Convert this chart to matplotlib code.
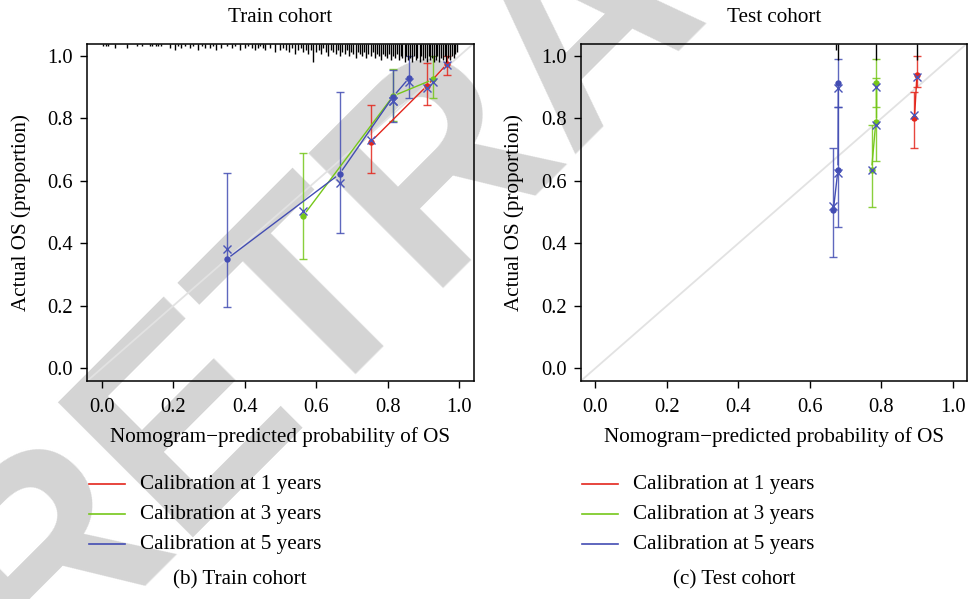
"""Calibration curves for the nomogram: train and test cohorts."""
import numpy as np
import matplotlib
matplotlib.use("Agg")
import matplotlib.pyplot as plt
from matplotlib.lines import Line2D
from matplotlib.transforms import blended_transform_factory

plt.rcParams["font.family"] = ["Liberation Serif", "DejaVu Serif"]

W, H = 968, 599
RED = "#e3261c"
GREEN = "#76c71a"
BLUE = "#434db3"
XCOL = "#4a55b8"
FS = 15.2
TICK_FS = 14.8

# ---- train cohort: groups for 1, 3 and 5 year calibration ----
tr1_pred = [0.753, 0.910, 0.966]
tr1_obs = [0.726, 0.905, 0.975]
tr1_lo = [0.624, 0.843, 0.939]
tr1_hi = [0.843, 0.979, 1.000]
tr1_corr = [0.731, 0.898, 0.972]

tr3_pred = [0.564, 0.815, 0.927]
tr3_obs = [0.489, 0.872, 0.925]
tr3_lo = [0.349, 0.792, 0.867]
tr3_hi = [0.688, 0.958, 1.000]
tr3_corr = [0.504, 0.856, 0.916]

tr5_pred = [0.350, 0.665, 0.815, 0.860]
tr5_obs = [0.350, 0.622, 0.870, 0.930]
tr5_lo = [0.195, 0.433, 0.790, 0.866]
tr5_hi = [0.625, 0.885, 0.955, 1.000]
tr5_corr = [0.382, 0.593, 0.855, 0.917]

# ---- test cohort ----
te1_pred = [0.893, 0.900]
te1_obs = [0.800, 0.940]
te1_lo = [0.707, 0.902]
te1_hi = [0.886, 1.000]
te1_corr = [0.811, 0.934]

te3_pred = [0.773, 0.785, 0.785]
te3_obs = [0.636, 0.790, 0.912]
te3_lo = [0.517, 0.665, 0.838]
te3_hi = [0.780, 0.930, 0.990]
te3_corr = [0.636, 0.778, 0.901]

te5_pred = [0.666, 0.679, 0.680]
te5_obs = [0.506, 0.636, 0.912]
te5_lo = [0.357, 0.454, 0.838]
te5_hi = [0.706, 0.838, 0.990]
te5_corr = [0.521, 0.624, 0.896]

# distribution of predicted probabilities (value, frequency) drawn as a rug
train_rug_p = [0.004, 0.011, 0.019, 0.037, 0.070, 0.098, 0.112, 0.134, 0.142, 0.151, 0.158, 0.166,
               0.191, 0.205, 0.213, 0.222, 0.233, 0.247, 0.256, 0.270, 0.280, 0.289,
               0.303, 0.312, 0.321, 0.335, 0.349, 0.363, 0.373, 0.387, 0.401, 0.410,
               0.419, 0.429, 0.437, 0.444, 0.451, 0.457, 0.471, 0.485, 0.499, 0.507,
               0.516, 0.523, 0.531, 0.540, 0.549, 0.556, 0.564, 0.571, 0.578, 0.585,
               0.592, 0.600, 0.607, 0.613, 0.620, 0.627, 0.634, 0.641, 0.648, 0.654,
               0.661, 0.667, 0.673, 0.679, 0.686, 0.692, 0.698, 0.704, 0.710, 0.716,
               0.722, 0.728, 0.734, 0.740, 0.746, 0.752, 0.758, 0.763, 0.769, 0.775,
               0.781, 0.786, 0.792, 0.797, 0.803, 0.808, 0.814, 0.819, 0.825, 0.830,
               0.836, 0.841, 0.847, 0.852, 0.857, 0.862, 0.868, 0.873, 0.878, 0.883,
               0.889, 0.894, 0.899, 0.904, 0.909, 0.914, 0.919, 0.924, 0.929, 0.934,
               0.939, 0.944, 0.949, 0.954, 0.959, 0.964, 0.969, 0.974, 0.979, 0.984, 0.989, 0.994]
train_rug_n = [1, 1, 1, 2, 2, 1, 1, 1, 1, 1, 1, 1,
               2, 3, 1, 2, 1, 2, 1, 3, 1, 2,
               2, 1, 3, 2, 1, 2, 1, 3, 2, 1,
               2, 3, 2, 1, 2, 3, 2, 4, 3, 2,
               3, 4, 2, 5, 3, 2, 4, 3, 5, 3,
               9, 4, 3, 5, 2, 4, 6, 3, 4, 5,
               3, 6, 4, 5, 3, 6, 4, 5, 7, 4,
               5, 6, 4, 7, 5, 6, 4, 7, 5, 6,
               8, 5, 6, 7, 5, 8, 6, 7, 5, 8,
               6, 7, 9, 6, 8, 7, 9, 6, 8, 7,
               9, 6, 8, 7, 9, 6, 8, 7, 9, 8,
               6, 9, 7, 8, 6, 9, 7, 8, 6, 7, 5, 4]
test_rug_p = [0.673, 0.680, 0.785, 0.899]
test_rug_n = [3, 8, 8, 8]

ticks = [0.0, 0.2, 0.4, 0.6, 0.8, 1.0]
tick_labels = ["0.0", "0.2", "0.4", "0.6", "0.8", "1.0"]
legend_labels = ["Calibration at 1 years", "Calibration at 3 years", "Calibration at 5 years"]


def fx(px):
    return px / W


def fy(py):
    return 1 - py / H


def gapped_line(ax, xs, ys, color, gap=5.0):
    # lines between points leave a small gap at each point
    pts = ax.transData.transform(np.column_stack([xs, ys]))
    inv = ax.transData.inverted()
    for p0, p1 in zip(pts[:-1], pts[1:]):
        d = np.hypot(*(p1 - p0))
        if d <= 2 * gap:
            continue
        u = (p1 - p0) / d
        seg = inv.transform(np.array([p0 + u * gap, p1 - u * gap]))
        ax.plot(seg[:, 0], seg[:, 1], color=color, lw=1.0, zorder=3)


def draw_group(ax, pred, obs, lo, hi, corr, color):
    obs = np.array(obs)
    yerr = [obs - np.array(lo), np.array(hi) - obs]
    ax.errorbar(pred, obs, yerr=yerr, fmt="none", ecolor=color, elinewidth=1.0,
                capsize=3.2, capthick=1.0, alpha=0.85, zorder=2)
    gapped_line(ax, pred, obs, color)
    ax.plot(pred, obs, "o", color=color, ms=4.6, mew=0, zorder=4)
    ax.plot(pred, corr, "x", color=XCOL, ms=5.5, mew=1.0, zorder=5)


def setup_axes(ax, rug_p, rug_n, scale):
    ax.set_xlim(-0.04, 1.04)
    ax.set_ylim(-0.04, 1.04)
    ax.set_facecolor("none")
    ax.axline((0, 0), (1, 1), color="#e2e2e2", lw=1.3, zorder=1)
    ax.set_xticks(ticks)
    ax.set_xticklabels(tick_labels)
    ax.set_yticks(ticks)
    ax.set_yticklabels(tick_labels)
    ax.tick_params(axis="both", direction="out", length=5, width=1.0, labelsize=TICK_FS,
                   color="black")
    ax.tick_params(axis="x", pad=7.5)
    ax.tick_params(axis="y", pad=5.5)
    for s in ax.spines.values():
        s.set_linewidth(1.1)
        s.set_color("black")
    axh_px = ax.get_position().height * H
    trans = blended_transform_factory(ax.transData, ax.transAxes)
    lengths = np.array(rug_n) * scale / axh_px
    ax.vlines(rug_p, 1 - lengths, 1, transform=trans, color="black", lw=1.0, zorder=6)


fig = plt.figure(figsize=(W / 100, H / 100), dpi=100)
fig.patch.set_facecolor("white")

# RETRACTED stamp behind the panels
fig.text(fx(34), fy(678), "RETRACTED", rotation=45, rotation_mode="anchor",
         ha="left", va="baseline", fontsize=199, fontweight="bold",
         family="Liberation Sans", color="#d4d4d4", zorder=-1)

ax1 = fig.add_axes([fx(87.4), fy(380.8), (473.6 - 87.4) / W, (380.8 - 43.5) / H])
ax2 = fig.add_axes([fx(581.0), fy(380.8), (967.0 - 581.0) / W, (380.8 - 43.5) / H])

setup_axes(ax1, train_rug_p, train_rug_n, 2.0)
setup_axes(ax2, test_rug_p, test_rug_n, 2.0)

draw_group(ax1, tr1_pred, tr1_obs, tr1_lo, tr1_hi, tr1_corr, RED)
draw_group(ax1, tr3_pred, tr3_obs, tr3_lo, tr3_hi, tr3_corr, GREEN)
draw_group(ax1, tr5_pred, tr5_obs, tr5_lo, tr5_hi, tr5_corr, BLUE)

draw_group(ax2, te1_pred, te1_obs, te1_lo, te1_hi, te1_corr, RED)
draw_group(ax2, te3_pred, te3_obs, te3_lo, te3_hi, te3_corr, GREEN)
draw_group(ax2, te5_pred, te5_obs, te5_lo, te5_hi, te5_corr, BLUE)

# titles, axis labels, legends and captions
for cx, lx, title, caption in [(280, 88, "Train cohort", "(b) Train cohort"),
                               (774, 581, "Test cohort", "(c) Test cohort")]:
    fig.text(fx(cx), fy(18), title, ha="center", va="center", fontsize=FS)
    fig.text(fx(cx), fy(437), "Nomogram\u2212predicted probability of OS",
             ha="center", va="center", fontsize=FS)
    fig.text(fx(lx - 67), fy(213), "Actual OS (proportion)", rotation=90,
             ha="center", va="center", fontsize=FS)
    for ly, col, lab in zip([484, 514, 544], [RED, GREEN, BLUE], legend_labels):
        fig.add_artist(Line2D([fx(lx + 1), fx(lx + 37)], [fy(ly), fy(ly)], color=col, lw=1.2))
        fig.text(fx(lx + 52), fy(ly), lab, ha="left", va="center", fontsize=FS)
    fig.text(fx(cx - 40), fy(580), caption, ha="center", va="center", fontsize=FS)

fig.savefig("out.png", dpi=100, facecolor="white")
